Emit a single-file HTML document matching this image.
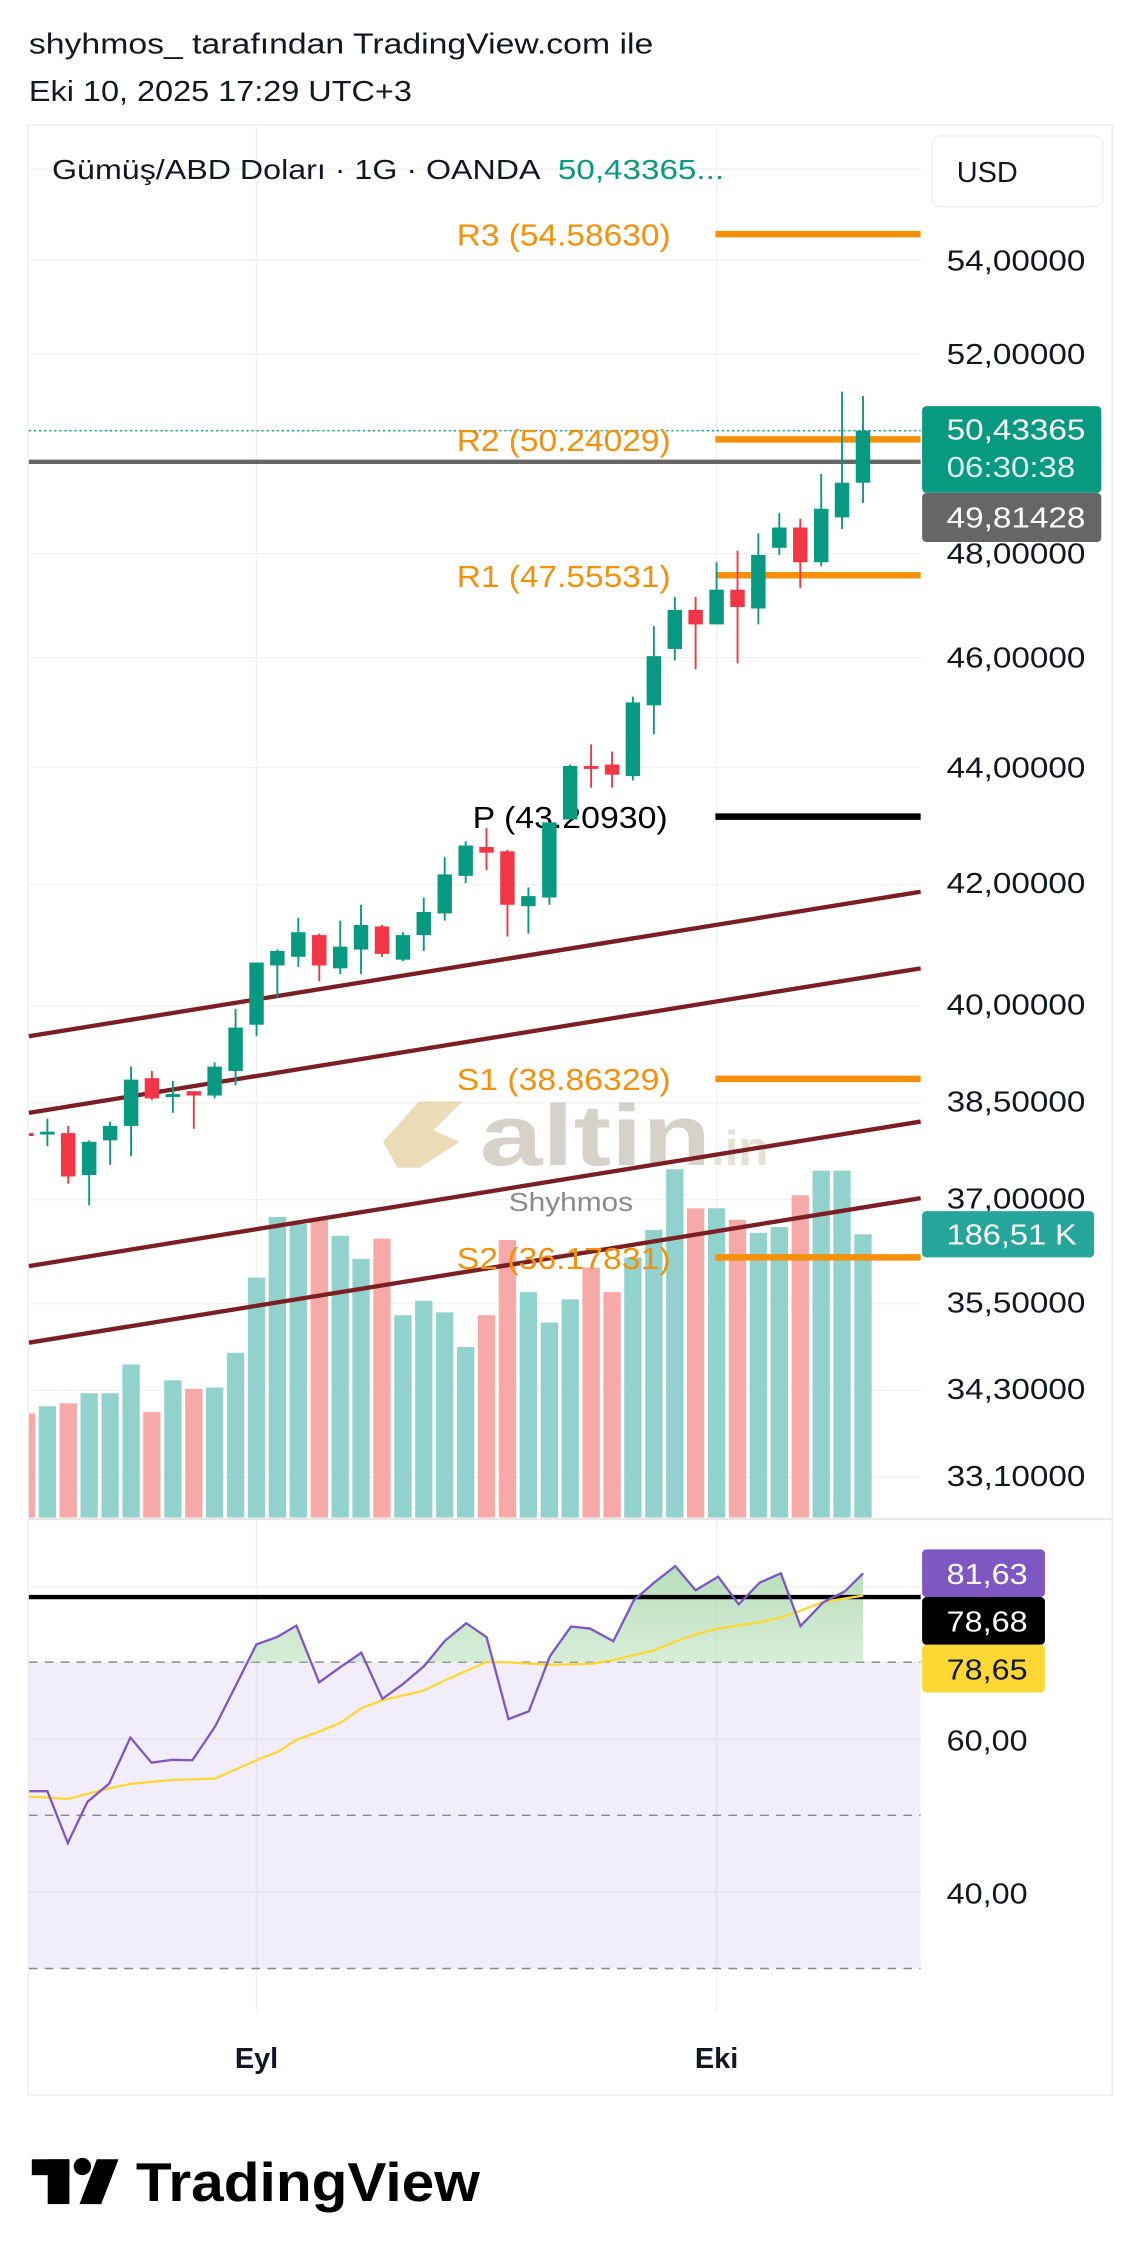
<!DOCTYPE html>
<html><head><meta charset="utf-8"><style>
html,body{margin:0;padding:0;background:#fff;}
svg{display:block;}
text{font-family:"Liberation Sans",sans-serif;}
</style></head><body>
<svg width="1136" height="2259" viewBox="0 0 786 1563" preserveAspectRatio="none" xmlns="http://www.w3.org/2000/svg">
<defs>
<clipPath id="plot"><rect x="20" y="87" width="617" height="963"/></clipPath>
<clipPath id="rsiTop"><rect x="20" y="1052" width="617" height="98"/></clipPath>
<linearGradient id="gf" x1="0" y1="0" x2="0" y2="1"><stop offset="0" stop-color="#a5d6a7" stop-opacity="0.8"/><stop offset="1" stop-color="#e8f5e9" stop-opacity="0.2"/></linearGradient>
</defs>
<rect width="786" height="1563" fill="#fff"/>
<text x="20" y="37" font-size="20" fill="#131722" textLength="432" lengthAdjust="spacingAndGlyphs">shyhmos_ tarafından TradingView.com ile</text>
<text x="20" y="70" font-size="20" fill="#131722" textLength="265" lengthAdjust="spacingAndGlyphs">Eki 10, 2025 17:29 UTC+3</text>
<rect x="19.5" y="86.5" width="750" height="1363" fill="none" stroke="#ececec" stroke-width="1"/>
<line x1="20" y1="1051" x2="769" y2="1051" stroke="#e6e6e6" stroke-width="1.5"/>
<!-- grid -->
<g stroke="#f1f1f1" stroke-width="1">
<line x1="20" y1="117" x2="637" y2="117"/><line x1="20" y1="180" x2="637" y2="180"/><line x1="20" y1="245" x2="637" y2="245"/><line x1="20" y1="383" x2="637" y2="383"/><line x1="20" y1="455" x2="637" y2="455"/><line x1="20" y1="531" x2="637" y2="531"/><line x1="20" y1="612" x2="637" y2="612"/><line x1="20" y1="696" x2="637" y2="696"/><line x1="20" y1="763" x2="637" y2="763"/><line x1="20" y1="830" x2="637" y2="830"/><line x1="20" y1="902" x2="637" y2="902"/><line x1="20" y1="962" x2="637" y2="962"/><line x1="20" y1="1022" x2="637" y2="1022"/>
<line x1="177.5" y1="87" x2="177.5" y2="1392"/><line x1="495.8" y1="87" x2="495.8" y2="1392"/>
<line x1="20" y1="1203" x2="637" y2="1203"/><line x1="20" y1="1309" x2="637" y2="1309"/><line x1="20" y1="1098" x2="637" y2="1098"/>
</g>
<!-- volume -->
<g clip-path="url(#plot)">
<g fill="#92d2cc">
<rect x="26.8" y="973" width="12" height="77"/><rect x="55.7" y="964" width="12" height="86"/><rect x="70.2" y="964" width="12" height="86"/><rect x="84.7" y="944" width="12" height="106"/><rect x="113.6" y="955" width="12" height="95"/><rect x="142.5" y="960" width="12" height="90"/><rect x="157" y="936" width="12" height="114"/><rect x="171.5" y="884" width="12" height="166"/><rect x="185.9" y="842" width="12" height="208"/><rect x="200.4" y="847" width="12" height="203"/><rect x="229.4" y="855" width="12" height="195"/><rect x="243.8" y="871" width="12" height="179"/><rect x="272.8" y="910" width="12" height="140"/><rect x="287.2" y="900" width="12" height="150"/><rect x="301.7" y="908" width="12" height="142"/><rect x="316.2" y="932" width="12" height="118"/><rect x="359.6" y="894" width="12" height="156"/><rect x="374.1" y="915" width="12" height="135"/><rect x="388.5" y="899" width="12" height="151"/><rect x="431.9" y="870" width="12" height="180"/><rect x="446.4" y="851" width="12" height="199"/><rect x="460.9" y="809" width="12" height="241"/><rect x="489.8" y="836" width="12" height="214"/><rect x="518.7" y="853" width="12" height="197"/><rect x="533.2" y="849" width="12" height="201"/><rect x="562.2" y="810" width="12" height="240"/><rect x="576.6" y="810" width="12" height="240"/><rect x="591.1" y="854" width="12" height="196"/>
</g>
<g fill="#f7a9a7">
<rect x="12.3" y="978" width="12" height="72"/><rect x="41.2" y="971" width="12" height="79"/><rect x="99.1" y="977" width="12" height="73"/><rect x="128.1" y="961" width="12" height="89"/><rect x="214.9" y="844" width="12" height="206"/><rect x="258.3" y="857" width="12" height="193"/><rect x="330.6" y="910" width="12" height="140"/><rect x="345.1" y="858" width="12" height="192"/><rect x="403" y="877" width="12" height="173"/><rect x="417.5" y="894" width="12" height="156"/><rect x="475.3" y="836" width="12" height="214"/><rect x="504.3" y="844" width="12" height="206"/><rect x="547.7" y="827" width="12" height="223"/>
</g>
</g>
<!-- watermark -->
<g opacity="0.75">
<polygon points="265,790 290,762 320,762 300,782 318,790 290,808 275,808" fill="#e6cf9f"/>
<text x="332" y="806" font-size="60" font-weight="bold" fill="#c9c3b8" textLength="160" lengthAdjust="spacingAndGlyphs">altin</text>
<text x="492" y="806" font-size="34" font-weight="bold" fill="#ddd5c8">.in</text>
</g>
<text x="352" y="838" font-size="18" fill="#8a8a8a" textLength="86" lengthAdjust="spacingAndGlyphs">Shyhmos</text>
<!-- trend lines -->
<g stroke="#7b1f24" stroke-width="3">
<line x1="20" y1="717" x2="637" y2="617"/><line x1="20" y1="770" x2="637" y2="670"/><line x1="20" y1="876" x2="637" y2="776"/><line x1="20" y1="929" x2="637" y2="829"/>
</g>
<!-- pivot lines -->
<g stroke="#f5900a" stroke-width="4.5">
<line x1="495" y1="162" x2="637" y2="162"/><line x1="495" y1="304" x2="637" y2="304"/><line x1="495" y1="398" x2="637" y2="398"/><line x1="495" y1="746.5" x2="637" y2="746.5"/><line x1="495" y1="870" x2="637" y2="870"/>
</g>
<line x1="495" y1="565" x2="637" y2="565" stroke="#000" stroke-width="4.5"/>
<line x1="20" y1="298" x2="637" y2="298" stroke="#089981" stroke-width="1" stroke-dasharray="1.5,2"/>
<line x1="20" y1="319.5" x2="637" y2="319.5" stroke="#666" stroke-width="3"/>
<g font-size="21" fill="#f5900a">
<text x="316" y="170" textLength="148" lengthAdjust="spacingAndGlyphs">R3 (54.58630)</text>
<text x="316" y="312" textLength="148" lengthAdjust="spacingAndGlyphs">R2 (50.24029)</text>
<text x="316" y="406" textLength="148" lengthAdjust="spacingAndGlyphs">R1 (47.55531)</text>
<text x="316" y="754" textLength="148" lengthAdjust="spacingAndGlyphs">S1 (38.86329)</text>
<text x="316" y="878" textLength="148" lengthAdjust="spacingAndGlyphs">S2 (36.17831)</text>
</g>
<text x="327" y="573" font-size="21" fill="#000" textLength="135" lengthAdjust="spacingAndGlyphs">P (43.20930)</text>
<!-- candles -->
<g clip-path="url(#plot)">
<g stroke="#089981" stroke-width="1.3">
<line x1="32.8" y1="774" x2="32.8" y2="793"/><line x1="61.7" y1="789" x2="61.7" y2="834"/><line x1="76.2" y1="776" x2="76.2" y2="806"/><line x1="90.7" y1="738" x2="90.7" y2="800"/><line x1="119.6" y1="748" x2="119.6" y2="770"/><line x1="148.5" y1="735" x2="148.5" y2="760"/><line x1="163" y1="698" x2="163" y2="751"/><line x1="177.5" y1="666" x2="177.5" y2="717"/><line x1="191.9" y1="657" x2="191.9" y2="690"/><line x1="206.4" y1="635" x2="206.4" y2="669"/><line x1="235.4" y1="637" x2="235.4" y2="674"/><line x1="249.8" y1="626" x2="249.8" y2="674"/><line x1="278.8" y1="645" x2="278.8" y2="665"/><line x1="293.2" y1="621" x2="293.2" y2="658"/><line x1="307.7" y1="593" x2="307.7" y2="637"/><line x1="322.2" y1="582" x2="322.2" y2="611"/><line x1="365.6" y1="614" x2="365.6" y2="646"/><line x1="380.1" y1="569" x2="380.1" y2="626"/><line x1="394.5" y1="529" x2="394.5" y2="567"/><line x1="437.9" y1="482" x2="437.9" y2="540"/><line x1="452.4" y1="433" x2="452.4" y2="508"/><line x1="466.9" y1="413" x2="466.9" y2="457"/><line x1="495.8" y1="389" x2="495.8" y2="432"/><line x1="524.7" y1="369" x2="524.7" y2="432"/><line x1="539.2" y1="355" x2="539.2" y2="384"/><line x1="568.2" y1="328" x2="568.2" y2="392"/><line x1="582.6" y1="271" x2="582.6" y2="366"/><line x1="597.1" y1="274" x2="597.1" y2="348"/>
</g>
<g fill="#089981">
<rect x="27.8" y="783" width="10" height="2"/><rect x="56.7" y="790" width="10" height="23"/><rect x="71.2" y="779" width="10" height="10"/><rect x="85.7" y="747" width="10" height="32"/><rect x="114.6" y="757" width="10" height="2"/><rect x="143.5" y="738" width="10" height="20"/><rect x="158" y="711" width="10" height="30"/><rect x="172.5" y="666" width="10" height="43"/><rect x="186.9" y="658" width="10" height="10"/><rect x="201.4" y="645" width="10" height="17"/><rect x="230.4" y="655" width="10" height="15"/><rect x="244.8" y="640" width="10" height="17"/><rect x="273.8" y="647" width="10" height="17"/><rect x="288.2" y="631" width="10" height="16"/><rect x="302.7" y="605" width="10" height="27"/><rect x="317.2" y="585" width="10" height="21"/><rect x="360.6" y="620" width="10" height="7"/><rect x="375.1" y="569" width="10" height="52"/><rect x="389.5" y="530" width="10" height="37"/><rect x="432.9" y="486" width="10" height="51"/><rect x="447.4" y="454" width="10" height="34"/><rect x="461.9" y="422" width="10" height="27"/><rect x="490.8" y="408" width="10" height="24"/><rect x="519.7" y="384" width="10" height="37"/><rect x="534.2" y="365" width="10" height="14"/><rect x="563.2" y="352" width="10" height="37"/><rect x="577.6" y="334" width="10" height="24"/><rect x="592.1" y="298" width="10" height="36"/>
</g>
<g stroke="#f23645" stroke-width="1.3">
<line x1="47.2" y1="779" x2="47.2" y2="819"/><line x1="105.1" y1="741" x2="105.1" y2="761"/><line x1="134.1" y1="755" x2="134.1" y2="781"/><line x1="220.9" y1="646" x2="220.9" y2="679"/><line x1="264.3" y1="640" x2="264.3" y2="662"/><line x1="336.6" y1="573" x2="336.6" y2="602"/><line x1="351.1" y1="588" x2="351.1" y2="648"/><line x1="409" y1="515" x2="409" y2="545"/><line x1="423.5" y1="520" x2="423.5" y2="545"/><line x1="481.3" y1="413" x2="481.3" y2="463"/><line x1="510.3" y1="381" x2="510.3" y2="459"/><line x1="553.7" y1="359" x2="553.7" y2="407"/>
</g>
<g fill="#f23645">
<rect x="13.3" y="784" width="10" height="2"/><rect x="42.2" y="784" width="10" height="30"/><rect x="100.1" y="746" width="10" height="14"/><rect x="129.1" y="755" width="10" height="3"/><rect x="215.9" y="647" width="10" height="21"/><rect x="259.3" y="641" width="10" height="19"/><rect x="331.6" y="586" width="10" height="4"/><rect x="346.1" y="589" width="10" height="37"/><rect x="404" y="530" width="10" height="2"/><rect x="418.5" y="529" width="10" height="7"/><rect x="476.3" y="422" width="10" height="10"/><rect x="505.3" y="408" width="10" height="12"/><rect x="548.7" y="365" width="10" height="24"/>
</g>
</g>
<!-- title -->
<text x="36" y="124" font-size="19" fill="#131722" textLength="338" lengthAdjust="spacingAndGlyphs">Gümüş/ABD Doları · 1G · OANDA</text>
<text x="386" y="124" font-size="19" fill="#089981" textLength="115" lengthAdjust="spacingAndGlyphs">50,43365...</text>
<rect x="645" y="94" width="118" height="49" rx="6" fill="#fff" stroke="#eeeeee"/>
<text x="662" y="126" font-size="20" fill="#131722">USD</text>
<!-- price axis -->
<g font-size="20" fill="#131722">
<text x="655" y="187" textLength="96" lengthAdjust="spacingAndGlyphs">54,00000</text>
<text x="655" y="252" textLength="96" lengthAdjust="spacingAndGlyphs">52,00000</text>
<text x="655" y="390" textLength="96" lengthAdjust="spacingAndGlyphs">48,00000</text>
<text x="655" y="462" textLength="96" lengthAdjust="spacingAndGlyphs">46,00000</text>
<text x="655" y="538" textLength="96" lengthAdjust="spacingAndGlyphs">44,00000</text>
<text x="655" y="618" textLength="96" lengthAdjust="spacingAndGlyphs">42,00000</text>
<text x="655" y="702" textLength="96" lengthAdjust="spacingAndGlyphs">40,00000</text>
<text x="655" y="769" textLength="96" lengthAdjust="spacingAndGlyphs">38,50000</text>
<text x="655" y="836" textLength="96" lengthAdjust="spacingAndGlyphs">37,00000</text>
<text x="655" y="908" textLength="96" lengthAdjust="spacingAndGlyphs">35,50000</text>
<text x="655" y="968" textLength="96" lengthAdjust="spacingAndGlyphs">34,30000</text>
<text x="655" y="1028" textLength="96" lengthAdjust="spacingAndGlyphs">33,10000</text>
</g>
<rect x="638" y="281" width="124" height="60" rx="3" fill="#089981"/>
<text x="655" y="304" font-size="20" fill="#fff" textLength="96" lengthAdjust="spacingAndGlyphs">50,43365</text>
<text x="655" y="330" font-size="20" fill="#e0f2ef" textLength="89" lengthAdjust="spacingAndGlyphs">06:30:38</text>
<rect x="638" y="341" width="124" height="34" rx="3" fill="#666"/>
<text x="655" y="365" font-size="20" fill="#fff" textLength="96" lengthAdjust="spacingAndGlyphs">49,81428</text>
<rect x="638" y="838" width="119" height="32" rx="3" fill="#26a69a"/>
<text x="655" y="861" font-size="20" fill="#fff" textLength="90" lengthAdjust="spacingAndGlyphs">186,51 K</text>
<!-- RSI -->
<rect x="20" y="1150" width="617" height="212" fill="#7e57c2" fill-opacity="0.1"/>
<g stroke="#888" stroke-width="1" stroke-dasharray="6,5">
<line x1="20" y1="1150" x2="637" y2="1150"/><line x1="20" y1="1256" x2="637" y2="1256"/><line x1="20" y1="1362" x2="637" y2="1362"/>
</g>
<polygon clip-path="url(#rsiTop)" fill="url(#gf)" points="20.2,1150 20.2,1239.3 32.8,1239.3 46.9,1275.2 60.5,1246.7 75.6,1234 90.2,1202.2 104.8,1219.6 119.4,1217.6 133.1,1217.9 148.7,1194.8 162.8,1167 177.4,1137.8 192,1132.5 205.1,1124.8 220.8,1164 235.4,1153.6 250,1143.5 264.6,1175.4 278.7,1165.3 293.3,1152.9 307.9,1135.2 322.6,1123.1 336.7,1132.8 351.8,1189.4 365.9,1184.1 380.5,1145.9 395.1,1125.4 408.2,1126.8 424.4,1135.5 438.5,1107.3 452.6,1095 467.2,1083.6 481.3,1100.3 496.9,1090.9 511.1,1110 525.7,1095 540.3,1088.6 553.9,1125.1 569.5,1108.7 584.6,1101 597.2,1088.6 597.2,1150"/>
<line x1="20" y1="1105" x2="637" y2="1105" stroke="#000" stroke-width="3"/>
<polyline fill="none" stroke="#fdd835" stroke-width="1.6" points="20.2,1243 46.9,1244.7 75.6,1237.3 90.2,1234.3 119.4,1231.6 148.7,1230.6 177.4,1217.9 192,1212.2 205.1,1203.8 220.8,1198.1 235.4,1192.1 250,1182 264.6,1176.4 293.3,1169.7 307.9,1162.6 336.7,1149.9 351.8,1150.2 380.5,1151.9 409.2,1151.2 424.4,1148.6 438.5,1145.2 452.6,1141.9 467.2,1135.8 481.3,1130.8 496.9,1126.8 525.7,1122.4 540.3,1119.1 553.9,1114.4 569.5,1108.4 584.6,1106 597.2,1104"/>
<polyline fill="none" stroke="#7e57c2" stroke-width="1.6" points="20.2,1239.3 32.8,1239.3 46.9,1275.2 60.5,1246.7 75.6,1234 90.2,1202.2 104.8,1219.6 119.4,1217.6 133.1,1217.9 148.7,1194.8 162.8,1167 177.4,1137.8 192,1132.5 205.1,1124.8 220.8,1164 235.4,1153.6 250,1143.5 264.6,1175.4 278.7,1165.3 293.3,1152.9 307.9,1135.2 322.6,1123.1 336.7,1132.8 351.8,1189.4 365.9,1184.1 380.5,1145.9 395.1,1125.4 408.2,1126.8 424.4,1135.5 438.5,1107.3 452.6,1095 467.2,1083.6 481.3,1100.3 496.9,1090.9 511.1,1110 525.7,1095 540.3,1088.6 553.9,1125.1 569.5,1108.7 584.6,1101 597.2,1088.6"/>
<g font-size="20" fill="#131722">
<text x="655" y="1211" textLength="56" lengthAdjust="spacingAndGlyphs">60,00</text>
<text x="655" y="1317" textLength="56" lengthAdjust="spacingAndGlyphs">40,00</text>
</g>
<rect x="638" y="1072" width="85" height="33" rx="3" fill="#7e57c2"/>
<text x="655" y="1096" font-size="20" fill="#fff" textLength="56" lengthAdjust="spacingAndGlyphs">81,63</text>
<rect x="638" y="1105" width="85" height="33" rx="3" fill="#000"/>
<text x="655" y="1129" font-size="20" fill="#fff" textLength="56" lengthAdjust="spacingAndGlyphs">78,68</text>
<rect x="638" y="1138" width="85" height="33" rx="3" fill="#fdd835"/>
<text x="655" y="1162" font-size="20" fill="#131722" textLength="56" lengthAdjust="spacingAndGlyphs">78,65</text>
<!-- time axis -->
<text x="177.5" y="1431" font-size="20" font-weight="bold" fill="#131722" text-anchor="middle">Eyl</text>
<text x="495.8" y="1431" font-size="20" font-weight="bold" fill="#131722" text-anchor="middle">Eki</text>
<!-- logo -->
<g fill="#000">
<rect x="22" y="1494" width="26" height="11"/><rect x="33" y="1494" width="15" height="31"/>
<circle cx="57" cy="1499" r="6"/>
<polygon points="67,1494 82,1494 70,1525 55,1525"/>
</g>
<text x="94" y="1523" font-size="38" font-weight="bold" fill="#000" textLength="238" lengthAdjust="spacingAndGlyphs">TradingView</text>
</svg>
</body></html>
